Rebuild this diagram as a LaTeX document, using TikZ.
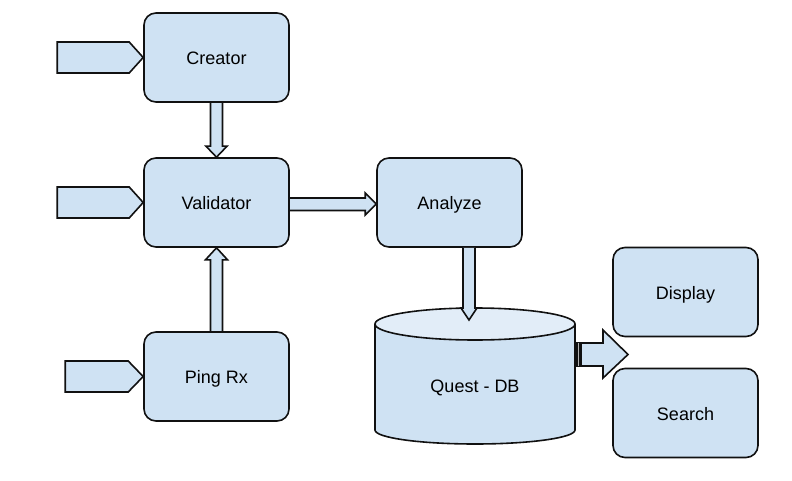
\documentclass[tikz,border=0pt]{standalone}
\usepackage{fontspec}
\setmainfont{Liberation Sans}
\usetikzlibrary{calc,backgrounds}
\definecolor{boxfill}{HTML}{CFE2F3}
\definecolor{topfill}{HTML}{E2EDF8}
\definecolor{edge}{HTML}{111111}
\tikzset{
  box/.style={draw=edge, fill=boxfill, line width=1.6pt, rounded corners=12pt,
    minimum width=145pt, minimum height=89pt, inner sep=0pt,
    text height=14pt, text depth=0pt,
    font=\fontsize{18}{22}\selectfont},
  blockarrow/.style={draw=edge, fill=boxfill, line width=1.6pt, line join=miter},
  lbl/.style={font=\fontsize{18}{22}\selectfont, inner sep=0pt, text height=14pt, text depth=0pt}
}
\begin{document}
\begin{tikzpicture}[x=1pt,y=-1pt]
\useasboundingbox (0,0) rectangle (792,481);
% boxes
\node[box] (creator) at (216.5,57.5) {Creator};
\node[box] (validator) at (216.5,202.5) {Validator};
\node[box] (ping) at (216.5,376.5) {Ping Rx};
\node[box] (analyze) at (449.5,202.5) {Analyze};
\node[box] (display) at (685.5,292) {Display};
\node[box] (search) at (685.5,413) {Search};
% cylinder
\filldraw[draw=edge, fill=boxfill, line width=1.6pt]
  (375,324) -- (375,430) arc[start angle=180, end angle=0, x radius=100, y radius=14] -- (575,324);
\draw[draw=edge, fill=topfill, line width=1.6pt] (475,324) ellipse[x radius=100, y radius=16];
\node[lbl] (db) at (475,385) {Quest - DB};
\coordinate (dbin) at (469,320);
\coordinate (dbout) at (575,354.5);
\coordinate (dbend) at (628,354.5);
\begin{scope}[on background layer]
\fill[white] (0,0) rectangle (792,481);
% input arrows
\foreach \n/\l/\b in {creator/86/14, validator/86/14, ping/78/15}{
  \draw[blockarrow] ($(\n.west)+(-\l,-15.5)$) -- ($(\n.west)+(-\b,-15.5)$) -- (\n.west)
    -- ($(\n.west)+(-\b,15.5)$) -- ($(\n.west)+(-\l,15.5)$) -- cycle;
}
% creator -> validator
\draw[blockarrow] ($(creator.south)+(-6,0)$) -- ($(validator.north)+(-6,-11)$) -- ($(validator.north)+(-10.5,-11)$)
  -- (validator.north) -- ($(validator.north)+(10.5,-11)$) -- ($(validator.north)+(6,-11)$) -- ($(creator.south)+(6,0)$);
% ping -> validator
\draw[blockarrow] ($(ping.north)+(-6,0)$) -- ($(validator.south)+(-6,12)$) -- ($(validator.south)+(-11,12)$)
  -- (validator.south) -- ($(validator.south)+(11,12)$) -- ($(validator.south)+(6,12)$) -- ($(ping.north)+(6,0)$);
% validator -> analyze
\draw[blockarrow] ($(validator.east)+(0,-4.5)$) -- ($(analyze.west)+(-11,-4.5)$) -- ($(analyze.west)+(-11,-9.5)$)
  -- ($(analyze.west)+(0,1.5)$) -- ($(analyze.west)+(-11,12.5)$) -- ($(analyze.west)+(-11,8)$) -- ($(validator.east)+(0,8)$);
\end{scope}
% analyze -> db
\draw[blockarrow] ($(analyze.south)+(13.5,0)$) -- ($(dbin)+(-6,-12)$) -- ($(dbin)+(-8,-12)$) -- (dbin)
  -- ($(dbin)+(8,-12)$) -- ($(dbin)+(6,-12)$) -- ($(analyze.south)+(25.5,0)$);
% db -> out
\fill[edge] ($(dbout)+(-1,-12.5)$) rectangle ($(dbout)+(7,12.5)$);
\draw[gray!60, line width=0.8pt] ($(dbout)+(3.5,-11.5)$) -- ($(dbout)+(3.5,11.5)$);
\draw[blockarrow] ($(dbout)+(7,-11.5)$) -- ($(dbend)+(-25,-11.5)$) -- ($(dbend)+(-25,-24.5)$) -- (dbend)
  -- ($(dbend)+(-25,23.5)$) -- ($(dbend)+(-25,11.5)$) -- ($(dbout)+(7,11.5)$);
\end{tikzpicture}
\end{document}
